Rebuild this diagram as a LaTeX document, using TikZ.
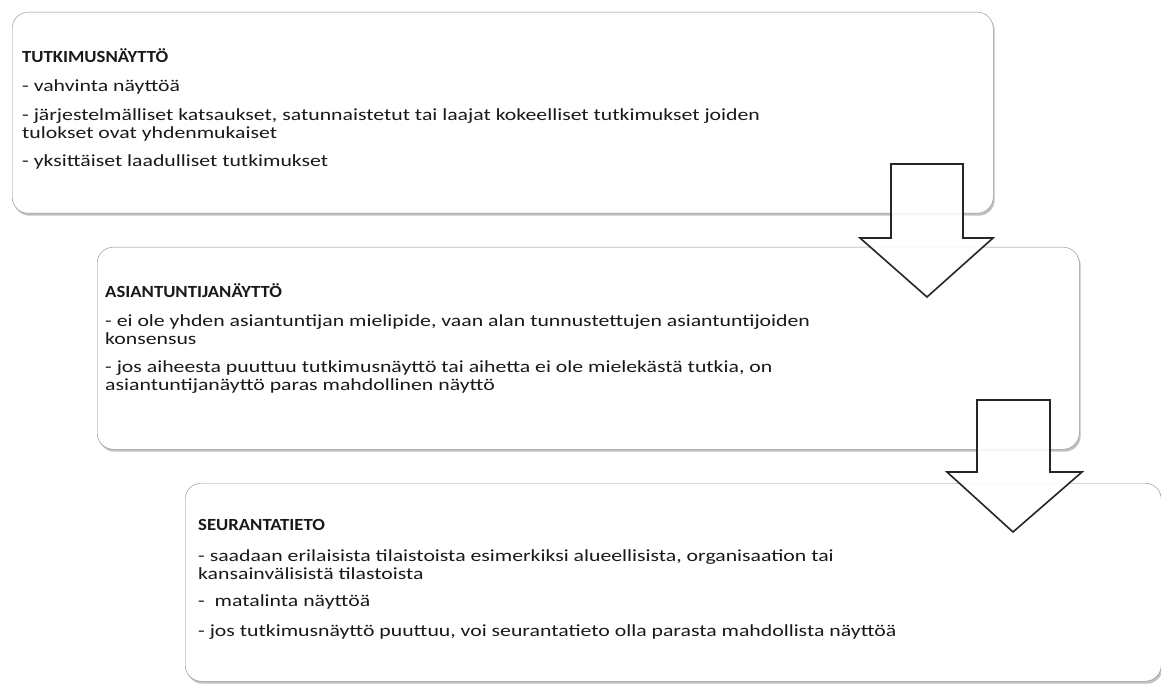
\documentclass[tikz,border=0pt]{standalone}
\usepackage{fontspec}
\setmainfont[FakeStretch=1.28,BoldFeatures={FakeStretch=1.1}]{Carlito}
\usetikzlibrary{positioning}
\usetikzlibrary{shadows}
\tikzset{
box/.style={
  draw=black!45,
  rounded corners=16pt,
  fill=white,
  inner sep=0pt,
  anchor=north west,
  drop shadow={shadow xshift=1.5pt,shadow yshift=-2.5pt,opacity=0.35,fill=black!70}
  },
txt/.style={
  inner sep=0pt,
  anchor=base west,
  text=black!90,
  font=\fontsize{17}{18}\selectfont
  },
blockarrow/.style={
  draw=black!85,
  line width=1.6pt,
  fill=white,
  fill opacity=0.88,
  line join=miter
  }
}
\newcommand{\lines}[1]{\begin{tabular}[t]{@{}l@{}}#1\end{tabular}}

\begin{document}
\begin{tikzpicture}[x=1pt,y=-1pt]
    \useasboundingbox (0,0) rectangle (1161,684);
    \node[box,minimum width=981pt,minimum height=201pt] (tutk) at (12,12) {};
    \node[box,minimum width=982pt,minimum height=202pt] (asian) at (97,247) {};
    \node[box,minimum width=976pt,minimum height=198pt] (seur) at (185,483) {};
    \node[txt] (tutktxt) at ([shift={(10,51)}]tutk.north west)
      {\lines{\textbf{TUTKIMUSNÄYTTÖ}\\[11pt]
       - vahvinta näyttöä\\[11pt]
       - järjestelmälliset katsaukset, satunnaistetut tai laajat kokeelliset tutkimukset joiden\\
       tulokset ovat yhdenmukaiset\\[10pt]
       - yksittäiset laadulliset tutkimukset}};
    \node[txt] (asiantxt) at ([shift={(8,51)}]asian.north west)
      {\lines{\textbf{ASIANTUNTIJANÄYTTÖ}\\[11pt]
       - ei ole yhden asiantuntijan mielipide, vaan alan tunnustettujen asiantuntijoiden\\
       konsensus\\[10pt]
       - jos aiheesta puuttuu tutkimusnäyttö tai aihetta ei ole mielekästä tutkia, on\\
       asiantuntijanäyttö paras mahdollinen näyttö}};
    \node[txt] (seurtxt) at ([shift={(13,47)}]seur.north west)
      {\lines{\textbf{SEURANTATIETO}\\[13pt]
       - saadaan erilaisista tilaistoista esimerkiksi alueellisista, organisaation tai\\
       kansainvälisistä tilastoista\\[9pt]
       - \ matalinta näyttöä\\[12pt]
       - jos tutkimusnäyttö puuttuu, voi seurantatieto olla parasta mahdollista näyttöä}};
    % down arrows between the boxes
    \draw[blockarrow] (891,164) -- (963,164) -- (963,238) -- (993,238)
      -- (927,297) -- (860,238) -- (891,238) -- cycle;
    \draw[blockarrow] (977,400) -- (1050,400) -- (1050,472) -- (1082,472)
      -- (1013,532) -- (947,472) -- (977,472) -- cycle;
\end{tikzpicture}
\end{document}
